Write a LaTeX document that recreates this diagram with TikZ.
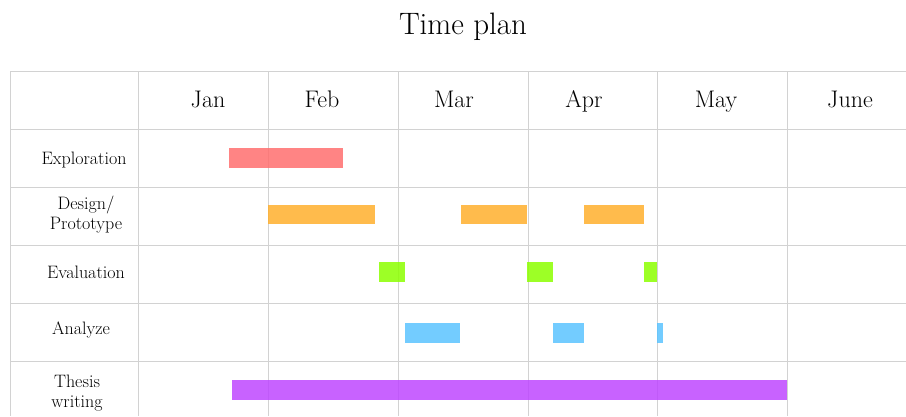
\documentclass[tikz,border=0pt]{standalone}
\usepackage{tikz}
\definecolor{gridgray}{RGB}{210,210,210}
\definecolor{barred}{RGB}{255,110,110}
\definecolor{barorange}{RGB}{255,175,45}
\definecolor{bargreen}{RGB}{140,255,0}
\definecolor{barblue}{RGB}{90,195,255}
\definecolor{barpurple}{RGB}{190,70,255}
\tikzset{
  gridline/.style={draw=gridgray, line width=0.8pt},
  taskbar/.style={fill opacity=0.85, draw=none},
  monthlabel/.style={font=\fontsize{24}{28}\selectfont, anchor=base},
  rowlabel/.style={font=\fontsize{18}{20}\selectfont, align=center, anchor=base},
  rowlabeltwo/.style={font=\fontsize{18}{20}\selectfont, align=center, anchor=center},
  titlelabel/.style={font=\fontsize{31}{36}\selectfont, anchor=base}
}
\begin{document}
\begin{tikzpicture}[x=1pt,y=-1pt]
  \useasboundingbox (0,0) rectangle (906,416);
  % title
  \node[titlelabel] (title) at (463,34) {Time plan};
  % grid
  \foreach \yy in {71,129,187,245,303,361}
    \draw[gridline] (10,\yy) -- (906,\yy);
  \foreach \xx in {10,138,268,398,528,657,787}
    \draw[gridline] (\xx,71) -- (\xx,416);
  % month headings
  \node[monthlabel] (jan) at (208,107) {Jan};
  \node[monthlabel] (feb) at (322,107) {Feb};
  \node[monthlabel] (mar) at (454,107) {Mar};
  \node[monthlabel] (apr) at (584,107) {Apr};
  \node[monthlabel] (may) at (716,107) {May};
  \node[monthlabel] (jun) at (850,107) {June};
  % task names
  \node[rowlabel] (explore) at (84,164) {Exploration};
  \node[rowlabeltwo] (design) at (86,215) {Design/\\Prototype};
  \node[rowlabel] (eval) at (86,278) {Evaluation};
  \node[rowlabel] (analyze) at (81,334) {Analyze};
  \node[rowlabeltwo] (thesis) at (77,393) {Thesis\\writing};
  % bars
  \fill[taskbar, barred] (229,148) rectangle (343,168);
  \fill[taskbar, barorange] (268,205) rectangle (375,224);
  \fill[taskbar, barorange] (461,205) rectangle (527,224);
  \fill[taskbar, barorange] (584,205) rectangle (644,224);
  \fill[taskbar, bargreen] (379,262) rectangle (405,282);
  \fill[taskbar, bargreen] (527,262) rectangle (553,282);
  \fill[taskbar, bargreen] (644,262) rectangle (657,282);
  \fill[taskbar, barblue] (405,323) rectangle (460,343);
  \fill[taskbar, barblue] (553,323) rectangle (584,343);
  \fill[taskbar, barblue] (657,323) rectangle (663,343);
  \fill[taskbar, barpurple] (232,380) rectangle (787,400);
\end{tikzpicture}
\end{document}
